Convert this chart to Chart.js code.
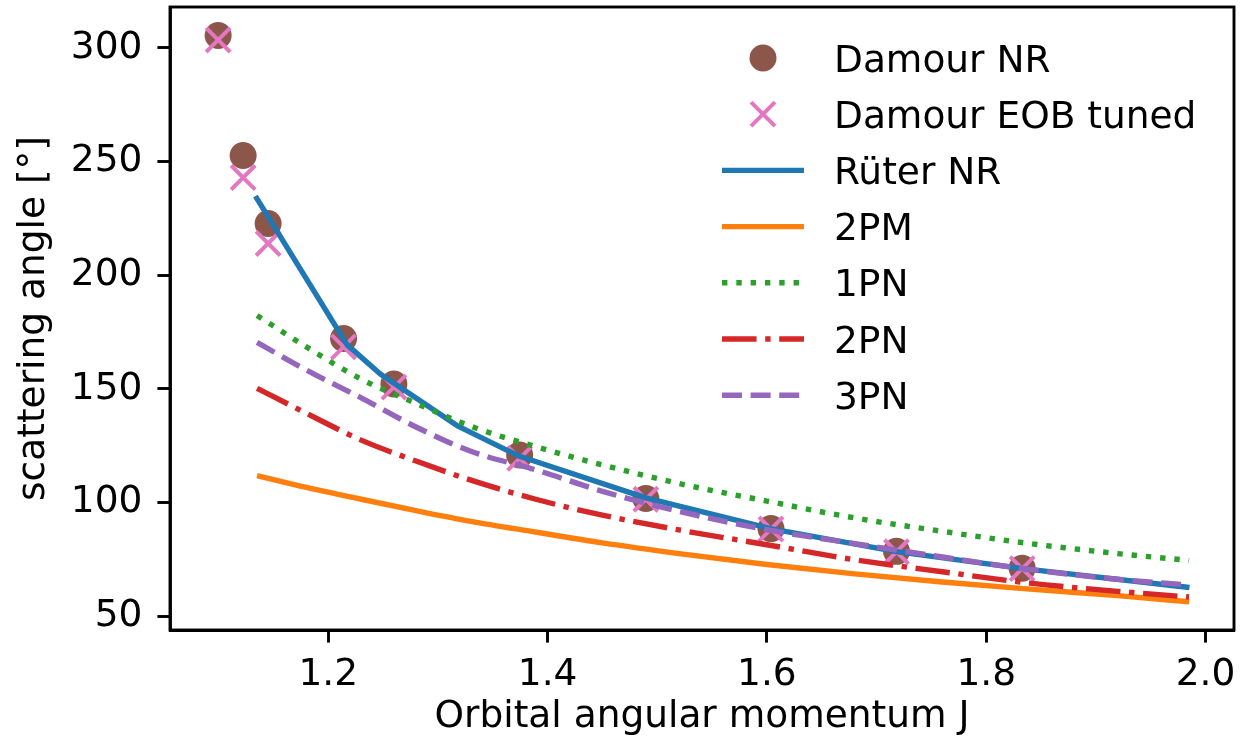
<!DOCTYPE html>
<html>
<head>
<meta charset="utf-8">
<script src="https://cdn.jsdelivr.net/npm/chart.js@4.4.1/dist/chart.umd.min.js"></script>
<style>
  html, body { margin: 0; padding: 0; background: #fff; }
  canvas { display: block; }
</style>
</head>
<body>
<canvas id="scatterChart" width="1252" height="747"></canvas>
<script>
// Damour NR points and the tuned EOB values at the same J
const nrJ = [1.0995, 1.1223, 1.1451, 1.2139, 1.2598, 1.3745, 1.4896, 1.6037, 1.7182, 1.8328];
const nrAngle = [305.5, 252.7, 222.8, 172.2, 152.2, 121.0, 101.8, 88.6, 78.6, 71.2];
const eobAngle = [303.5, 243.0, 214.0, 168.5, 150.8, 119.5, 101.5, 88.4, 78.4, 71.0];

// Rüter NR curve
const rueterJ = [1.1335, 1.217, 1.2474, 1.3173, 1.3738, 1.4904, 1.6043, 1.7182, 1.8335, 1.9854];
const rueterAngle = [234.8, 169.5, 156.6, 133.9, 120.5, 102.0, 88.5, 78.5, 71.0, 62.7];

// PM / PN approximations on a common J grid
const modelJ = [1.135, 1.18, 1.23, 1.28, 1.33, 1.39, 1.45, 1.52, 1.60, 1.68, 1.76, 1.84, 1.92, 1.985];
const pm2 = [111.9, 106.7, 101.5, 96.5, 91.8, 87.0, 82.3, 77.6, 72.8, 68.7, 65.1, 62.0, 59.1, 56.4];
const pn1 = [182.3, 168.5, 154.3, 143.7, 133.6, 124.5, 116.6, 108.4, 100.7, 93.3, 87.4, 82.0, 77.6, 74.6];
const pn2 = [150.3, 139.3, 127.5, 118.3, 109.9, 101.4, 94.5, 88.0, 81.5, 74.9, 69.6, 64.6, 61.0, 58.5];
const pn3 = [170.5, 158.3, 146.1, 133.3, 122.6, 114.3, 105.0, 96.2, 88.1, 82.0, 76.1, 70.6, 66.3, 63.8];

const xTicks = [1.2, 1.4, 1.6, 1.8, 2.0];
const yTicks = [50, 100, 150, 200, 250, 300];

const FONT = "'DejaVu Sans', sans-serif";
const FONT_SIZE = 37.5;
const LW = 5.4;

function pts(xs, ys) {
  return xs.map((x, i) => ({ x: x, y: ys[i] }));
}

function lineSet(label, xs, ys, color, dash, smooth) {
  const set = {
    label: label,
    data: pts(xs, ys),
    showLine: true,
    borderColor: color,
    backgroundColor: color,
    borderWidth: LW,
    borderDash: dash,
    borderCapStyle: "butt",
    borderJoinStyle: "round",
    pointRadius: 0,
    pointHoverRadius: 0,
    tension: 0,
  };
  if (smooth) set.cubicInterpolationMode = "monotone";
  return set;
}

const datasets = [
  {
    label: "Damour NR",
    data: pts(nrJ, nrAngle),
    pointStyle: "circle",
    pointRadius: 13.5,
    pointBackgroundColor: "#8c564b",
    pointBorderWidth: 0,
    showLine: false,
  },
  {
    label: "Damour EOB tuned",
    data: pts(nrJ, eobAngle),
    pointStyle: "crossRot",
    pointRadius: 17,
    pointBorderColor: "#e377c2",
    pointBorderWidth: 4,
    showLine: false,
  },
  lineSet("Rüter NR", rueterJ, rueterAngle, "#1f77b4", [], false),
  lineSet("2PM", modelJ, pm2, "#ff7f0e", [], true),
  lineSet("1PN", modelJ, pn1, "#2ca02c", [LW, LW * 1.65], true),
  lineSet("2PN", modelJ, pn2, "#d62728", [LW * 6.4, LW * 1.6, LW, LW * 1.6], true),
  lineSet("3PN", modelJ, pn3, "#9467bd", [LW * 3.7, LW * 1.6], true),
];
// later series sit on top
datasets.forEach((d, i) => { d.order = datasets.length - 1 - i; });

const noPadding = () => ({ left: 0, top: 0, right: 0, bottom: 0 });

// Box around the axes
const framePlugin = {
  id: "frame",
  afterDatasetsDraw(chart) {
    const { ctx, chartArea: a } = chart;
    ctx.save();
    ctx.strokeStyle = "#000";
    ctx.lineWidth = 2.9;
    ctx.strokeRect(a.left, a.top, a.right - a.left, a.bottom - a.top);
    ctx.restore();
  },
};

// Legend in the upper right corner of the plot
const legendPlugin = {
  id: "cornerLegend",
  afterDraw(chart) {
    const ctx = chart.ctx;
    const markX = 763;
    const textX = 834;
    const y0 = 58;
    const step = 56.2;
    ctx.save();
    chart.data.datasets.forEach((d, i) => {
      const y = y0 + i * step;
      if (d.pointStyle === "circle") {
        ctx.fillStyle = d.pointBackgroundColor;
        ctx.beginPath();
        ctx.arc(markX, y, 13.5, 0, Math.PI * 2);
        ctx.fill();
      } else if (d.pointStyle === "crossRot") {
        const h = 12;
        ctx.strokeStyle = d.pointBorderColor;
        ctx.lineWidth = 4;
        ctx.beginPath();
        ctx.moveTo(markX - h, y - h);
        ctx.lineTo(markX + h, y + h);
        ctx.moveTo(markX - h, y + h);
        ctx.lineTo(markX + h, y - h);
        ctx.stroke();
      } else {
        ctx.strokeStyle = d.borderColor;
        ctx.lineWidth = LW;
        ctx.lineCap = "butt";
        ctx.setLineDash(d.borderDash);
        ctx.beginPath();
        ctx.moveTo(markX - 41, y);
        ctx.lineTo(markX + 41, y);
        ctx.stroke();
        ctx.setLineDash([]);
      }
      ctx.fillStyle = "#000";
      ctx.font = FONT_SIZE + "px " + FONT;
      ctx.textAlign = "left";
      ctx.textBaseline = "alphabetic";
      ctx.fillText(d.label, textX, y + 13.5);
    });
    ctx.restore();
  },
};

const tickFont = { family: FONT, size: FONT_SIZE };

new Chart(document.getElementById("scatterChart"), {
  type: "scatter",
  data: { datasets: datasets },
  plugins: [framePlugin, legendPlugin],
  options: {
    responsive: false,
    animation: false,
    events: [],
    layout: {
      autoPadding: false,
      padding: { top: 7, right: 18, left: 0, bottom: 0 },
    },
    plugins: {
      legend: { display: false },
      tooltip: { enabled: false },
    },
    scales: {
      x: {
        type: "linear",
        min: 1.0556,
        max: 2.026,
        afterBuildTicks: (s) => { s.ticks = xTicks.map((v) => ({ value: v })); },
        afterFit: (s) => {
          s.height = 117;
          s.paddingLeft = 0;
          s.paddingRight = 0;
          s.getPadding = noPadding;
        },
        grid: { drawOnChartArea: false, tickLength: 12.6, tickWidth: 2.9, tickColor: "#000" },
        border: { color: "#000", width: 2.9 },
        ticks: {
          font: tickFont,
          color: "#000",
          padding: 10,
          maxRotation: 0,
          callback: (v) => Number(v).toFixed(1),
        },
        title: {
          display: true,
          text: "Orbital angular momentum J",
          font: tickFont,
          color: "#000",
          padding: { top: 0, bottom: 7 },
        },
      },
      y: {
        type: "linear",
        min: 44,
        max: 318,
        afterBuildTicks: (s) => { s.ticks = yTicks.map((v) => ({ value: v })); },
        afterFit: (s) => {
          s.width = 170;
          s.paddingTop = 0;
          s.paddingBottom = 0;
          s.getPadding = noPadding;
        },
        grid: { drawOnChartArea: false, tickLength: 12.6, tickWidth: 2.9, tickColor: "#000" },
        border: { color: "#000", width: 2.9 },
        ticks: {
          font: { family: FONT, size: FONT_SIZE, lineHeight: 0.2 },
          color: "#000",
          padding: 15,
          callback: (v) => String(v),
        },
        title: {
          display: true,
          text: "scattering angle [°]",
          font: tickFont,
          color: "#000",
          padding: { top: 12, bottom: 0 },
        },
      },
    },
  },
});
</script>
</body>
</html>
